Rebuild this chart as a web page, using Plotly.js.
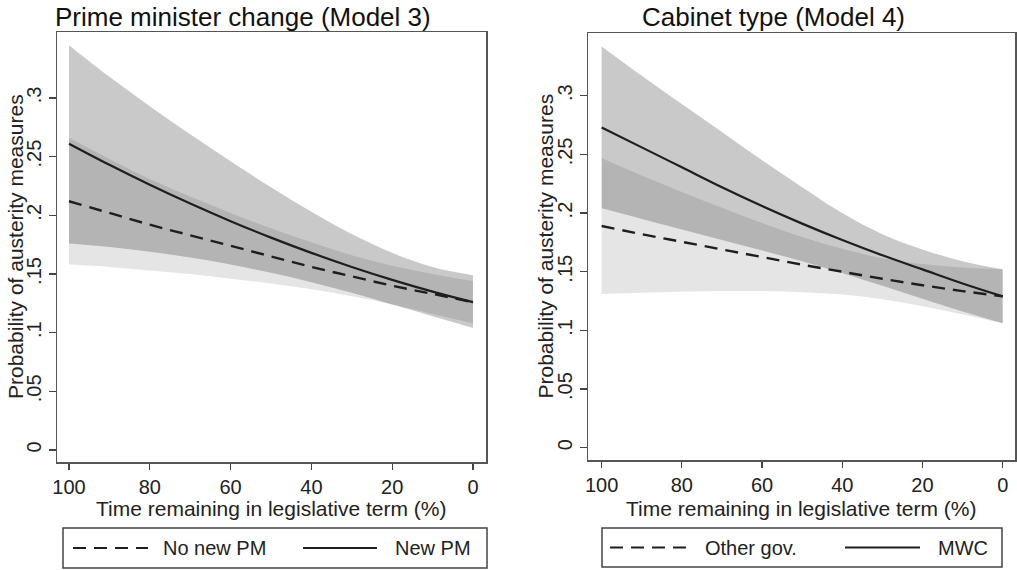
<!DOCTYPE html>
<html>
<head>
<meta charset="utf-8">
<script src="https://cdn.plot.ly/plotly-3.0.1.min.js"></script>
<style>html,body{margin:0;padding:0;background:#fff;}#chart{width:1017px;height:570px;}</style>
</head>
<body>
<div id="chart"></div>
<script>
// ---- data ----
const timeRemaining = [100, 90, 80, 70, 60, 50, 40, 30, 20, 10, 0];

// Panel 1: Prime minister change (Model 3)
const noNewPM   = [0.212, 0.202, 0.192, 0.183, 0.174, 0.165, 0.156, 0.148, 0.140, 0.133, 0.126];
const noNewPMLo = [0.158, 0.156, 0.153, 0.150, 0.146, 0.142, 0.137, 0.131, 0.124, 0.116, 0.108];
const noNewPMHi = [0.266, 0.248, 0.231, 0.216, 0.202, 0.189, 0.177, 0.166, 0.157, 0.150, 0.144];
const newPM     = [0.261, 0.243, 0.226, 0.210, 0.195, 0.181, 0.168, 0.156, 0.145, 0.135, 0.126];
const newPMLo   = [0.176, 0.173, 0.169, 0.164, 0.158, 0.151, 0.143, 0.134, 0.124, 0.114, 0.104];
const newPMHi   = [0.345, 0.318, 0.293, 0.269, 0.246, 0.224, 0.203, 0.184, 0.168, 0.156, 0.149];

// Panel 2: Cabinet type (Model 4)
const otherGov   = [0.189, 0.182, 0.1755, 0.169, 0.1625, 0.156, 0.150, 0.144, 0.1385, 0.1335, 0.129];
const otherGovLo = [0.131, 0.132, 0.133, 0.1335, 0.1335, 0.1325, 0.1305, 0.1265, 0.1205, 0.1135, 0.106];
const otherGovHi = [0.247, 0.232, 0.218, 0.2045, 0.1915, 0.1795, 0.1695, 0.1615, 0.1565, 0.1535, 0.152];
const mwc        = [0.273, 0.256, 0.239, 0.222, 0.206, 0.191, 0.177, 0.164, 0.152, 0.140, 0.129];
const mwcLo      = [0.204, 0.195, 0.186, 0.177, 0.168, 0.159, 0.149, 0.138, 0.127, 0.116, 0.106];
const mwcHi      = [0.342, 0.317, 0.293, 0.269, 0.245, 0.222, 0.200, 0.182, 0.169, 0.159, 0.152];

const panelTitles = ["Prime minister change (Model 3)", "Cabinet type (Model 4)"];
const legendLabels = [["No new PM", "New PM"], ["Other gov.", "MWC"]];
const xTickVals = [100, 80, 60, 40, 20, 0];
const yTickVals = [0, 0.05, 0.1, 0.15, 0.2, 0.25, 0.3];
const yTickText = ["0", ".05", ".1", ".15", ".2", ".25", ".3"];
const xTitle = "Time remaining in legislative term (%)";
const yTitle = "Probability of austerity measures";

// ---- styling helpers ----
const W = 1017, H = 570;
const px = v => v / W;
const py = v => 1 - v / H;
const FONT = "Liberation Sans, Arial, sans-serif";
const TXT = "#222";
const lightFill = "rgba(0,0,0,0.10)";
const darkFill = "rgba(0,0,0,0.21)";
const lineCol = "#1e1e1e";
const DASH = "13px,8px";
const sp = {shape: "spline", smoothing: 1};

function band(lo, hi, fill, xa, ya) {
  return [
    {x: timeRemaining, y: lo, xaxis: xa, yaxis: ya, type: "scatter", mode: "lines",
     line: Object.assign({width: 0, color: "rgba(0,0,0,0)"}, sp), hoverinfo: "skip", showlegend: false},
    {x: timeRemaining, y: hi, xaxis: xa, yaxis: ya, type: "scatter", mode: "lines", fill: "tonexty",
     fillcolor: fill, line: Object.assign({width: 0, color: "rgba(0,0,0,0)"}, sp), hoverinfo: "skip", showlegend: false}
  ];
}
function curve(y, name, dash, xa, ya) {
  return {x: timeRemaining, y: y, name: name, xaxis: xa, yaxis: ya, type: "scatter", mode: "lines",
          line: Object.assign({width: dash ? 2.4 : 2.2, color: lineCol, dash: dash ? DASH : "solid"}, sp),
          showlegend: false};
}

const traces = [].concat(
  band(noNewPMLo, noNewPMHi, lightFill, "x", "y"),
  band(newPMLo, newPMHi, darkFill, "x", "y"),
  band(otherGovLo, otherGovHi, lightFill, "x2", "y2"),
  band(mwcLo, mwcHi, darkFill, "x2", "y2"),
  [curve(noNewPM, legendLabels[0][0], true, "x", "y"),
   curve(newPM, legendLabels[0][1], false, "x", "y"),
   curve(otherGov, legendLabels[1][0], true, "x2", "y2"),
   curve(mwc, legendLabels[1][1], false, "x2", "y2")]
);

function xAxis(dom, range, anchor) {
  return {domain: dom, range: range, anchor: anchor, tickvals: xTickVals, ticks: "outside", ticklen: 6,
          tickwidth: 1.3, tickcolor: "#444", showline: true, mirror: true, linecolor: "#555", linewidth: 1.5,
          showgrid: false, zeroline: false, tickfont: {size: 20, family: FONT, color: TXT}, fixedrange: true};
}
function yAxis(dom, range, anchor) {
  return {domain: dom, range: range, anchor: anchor, tickvals: yTickVals, ticktext: yTickText, tickangle: -90,
          ticks: "outside", ticklen: 7, tickwidth: 1.3, tickcolor: "#444", showline: true, mirror: true,
          linecolor: "#555", linewidth: 1.5, showgrid: false, zeroline: false,
          tickfont: {size: 20, family: FONT, color: TXT}, fixedrange: true};
}

const shapes = [], annotations = [];
function legendBox(x0, x1, y0, y1, items) {
  shapes.push({type: "rect", xref: "paper", yref: "paper", x0: px(x0), x1: px(x1), y0: py(y1), y1: py(y0),
               line: {color: "#444", width: 1.5}, fillcolor: "rgba(0,0,0,0)"});
  const ym = (y0 + y1) / 2;
  items.forEach(it => {
    shapes.push({type: "line", xref: "paper", yref: "paper", x0: px(it.k0), x1: px(it.k1), y0: py(ym), y1: py(ym),
                 line: {color: lineCol, width: 2, dash: it.dash ? DASH : "solid"}});
    annotations.push({xref: "paper", yref: "paper", x: px(it.tx), y: py(ym), xanchor: "left", yanchor: "middle",
                      text: it.label, showarrow: false, font: {size: 20, family: FONT, color: TXT}});
  });
}
legendBox(63, 487, 528, 568, [
  {k0: 73, k1: 148, dash: true, tx: 161, label: legendLabels[0][0]},
  {k0: 303, k1: 377, dash: false, tx: 393, label: legendLabels[0][1]}
]);
legendBox(602, 1002, 528, 567, [
  {k0: 610, k1: 688, dash: true, tx: 703, label: legendLabels[1][0]},
  {k0: 845, k1: 920, dash: false, tx: 936, label: legendLabels[1][1]}
]);

function txt(x, y, text, size, angle) {
  annotations.push({xref: "paper", yref: "paper", x: px(x), y: py(y), xanchor: "center", yanchor: "middle",
                    text: text, showarrow: false, textangle: angle || 0,
                    font: {size: size, family: FONT, color: size > 24 ? "#111" : TXT}});
}
// panel titles
txt(243, 17, panelTitles[0], 26);
txt(773, 17, panelTitles[1], 26);
// axis titles
txt(271.5, 508, xTitle, 21);
txt(801.5, 508, xTitle, 21);
txt(15, 247, yTitle, 21, -90);
txt(545, 246.5, yTitle, 21, -90);

const layout = {
  width: W, height: H, margin: {l: 0, r: 0, t: 0, b: 0},
  paper_bgcolor: "#fff", plot_bgcolor: "#fff", showlegend: false,
  font: {family: FONT, color: TXT},
  xaxis: xAxis([px(57), px(486)], [102.97, -3.22], "y"),
  yaxis: yAxis([1 - 462 / H, 1 - 32 / H], [-0.0102, 0.3562], "x"),
  xaxis2: xAxis([px(588), px(1015)], [103.4, -3.07], "y2"),
  yaxis2: yAxis([1 - 460 / H, 1 - 33 / H], [-0.0105, 0.3535], "x2"),
  shapes: shapes, annotations: annotations
};

Plotly.newPlot("chart", traces, layout, {displayModeBar: false, staticPlot: true});
</script>
</body>
</html>
